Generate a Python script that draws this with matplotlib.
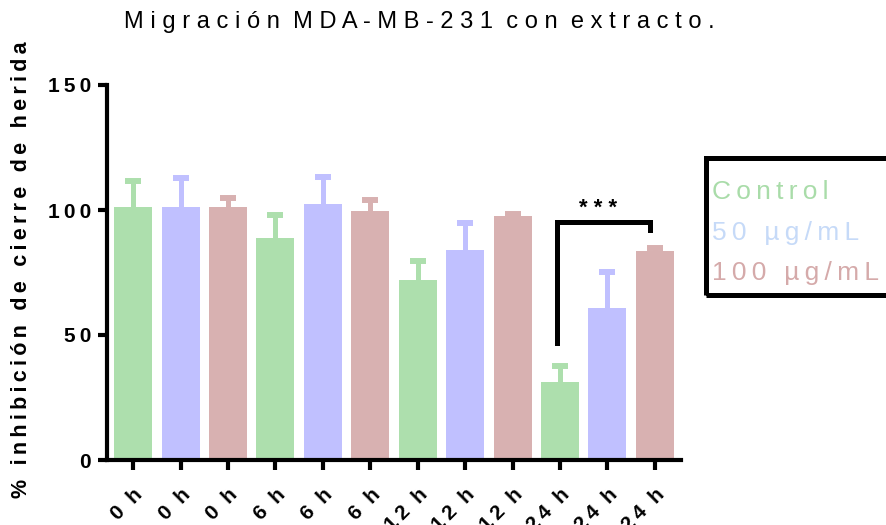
import matplotlib
matplotlib.use('Agg')
import matplotlib.pyplot as plt
import matplotlib.patches as mpatches
import numpy as np

plt.rcParams['font.family'] = ['Liberation Sans', 'DejaVu Sans']

# datos
grupos = ["0 h", "0 h", "0 h", "6 h", "6 h", "6 h",
          "12 h", "12 h", "12 h", "24 h", "24 h", "24 h"]
medias = [101.2, 101.2, 101.2, 88.8, 102.4, 99.6, 72.0, 84.0, 97.6, 31.2, 60.8, 83.6]
errores = [10.4, 11.6, 3.6, 9.2, 10.8, 4.4, 7.6, 10.8, 0.9, 6.5, 14.4, 1.2]
tratamientos = ["Control", "50 µg/mL", "100 µg/mL"]
colores_barra = ['#ADDFAD', '#C0C0FF', '#D8B1B1']
colores_leyenda = ['#A9DCA9', '#C6DAF8', '#D5AAAA']

# comparación significativa: 24 h Control vs 24 h 100 µg/mL
sig_izq, sig_der = 8.94, 10.9
sig_y_izq, sig_y_top, sig_y_der = 46.8, 95.2, 92.0
sig_texto = "***"

THIN = '\u2009'


def espaciado(s, sep=THIN, sep_palabra=None):
    """simula el espaciado entre letras de Prism"""
    if sep_palabra is None:
        sep_palabra = sep + ' ' + sep
    return sep_palabra.join(sep.join(p) for p in s.split(' '))


fig = plt.figure(figsize=(8.86, 5.25), dpi=100)
ax = fig.add_axes([107 / 886, 65 / 525, 574 / 886, 375 / 525])

x = np.arange(len(medias))
cols = [colores_barra[i % 3] for i in range(len(medias))]
ax.bar(x, medias, 0.8, color=cols, zorder=2)
# barras de error solo hacia arriba (estilo Prism)
tops = np.array(medias) + np.array(errores)
for i in range(len(medias)):
    ax.plot([x[i], x[i]], [medias[i], tops[i]], color=cols[i], lw=3.6,
            solid_capstyle='butt', zorder=1)
    ax.plot(x[i], tops[i], marker='_', markersize=11.5, markeredgewidth=4.3,
            color=cols[i], zorder=1)

# corchete de significancia
ax.plot([sig_izq, sig_izq, sig_der, sig_der],
        [sig_y_izq, sig_y_top, sig_y_top, sig_y_der],
        color='black', lw=3.6, solid_joinstyle='miter', zorder=3)
ax.text(9.8, sig_y_top + 1.0, espaciado(sig_texto, ' ', ' '),
        ha='center', va='bottom', fontsize=16, fontweight='bold')

ax.set_xlim(-0.55, 11.55)
ax.set_ylim(0, 150)
ax.set_yticks([0, 50, 100, 150])
ax.set_yticklabels([espaciado(str(v)) for v in [0, 50, 100, 150]],
                   fontsize=15, fontweight='bold')
ax.set_xticks(x)
ax.set_xticklabels([espaciado(g, THIN, '  ') for g in grupos], rotation=45,
                   rotation_mode='anchor', ha='right', va='top',
                   fontsize=15, fontweight='bold')

for s in ['top', 'right']:
    ax.spines[s].set_visible(False)
for s in ['left', 'bottom']:
    ax.spines[s].set_linewidth(3)
ax.tick_params(axis='y', direction='out', length=6.5, width=3, pad=5)
ax.tick_params(axis='x', direction='out', length=7, width=3, pad=11)

fig.text(419 / 886, 1 - 22 / 525, espaciado("Migración MDA-MB-231 con extracto.", ' ', '  '),
         ha='center', va='center', fontsize=17)
fig.text(22 / 886, 1 - 270 / 525, espaciado("% inhibición de cierre de herida"),
         rotation=90, ha='center', va='center', fontsize=15.5, fontweight='bold')

# leyenda en caja negra gruesa
caja = mpatches.Rectangle((705.5 / 886, 1 - 294.5 / 525), 200 / 886, 137 / 525,
                          transform=fig.transFigure, fill=False, edgecolor='black',
                          linewidth=3.6, joinstyle='miter', clip_on=False)
fig.patches.append(caja)
for i, (t, c) in enumerate(zip(tratamientos, colores_leyenda)):
    fig.text(712 / 886, 1 - (199 + 40.5 * i) / 525, espaciado(t), color=c,
             ha='left', va='baseline', fontsize=19)

fig.savefig('out.png', dpi=100)
